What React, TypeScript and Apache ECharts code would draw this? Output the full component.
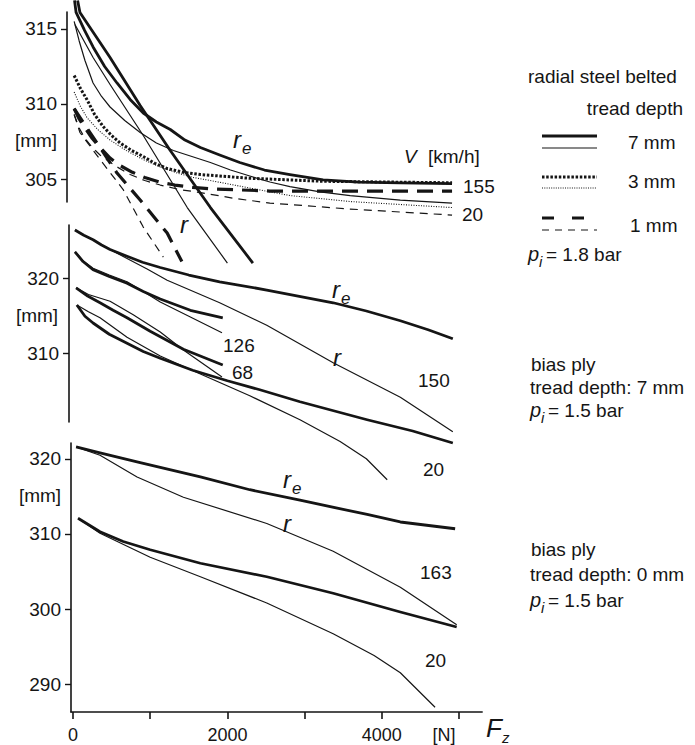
import React, { useEffect, useRef } from "react";
import * as echarts from "echarts";

const FONT = '"Liberation Sans", Arial, Helvetica, sans-serif';
const INK = "#151515";

// horizontal scale shared by all three panels: pixel of Fz = 0 and px per N
const X0 = 73;
const K = 0.0772;
const FZ_MAX = 5300;

// wheel load axis [N]
const loadTicks = [0, 1000, 2000, 3000, 4000, 5000];
const loadLabels = [0, 2000, 4000];

// radius ticks [mm]
const radialTicks = [305, 310, 315];
const biasTreadTicks = [310, 320];
const biasBaldTicks = [290, 300, 310, 320];

// radial steel belted, p_i = 1.8 bar  — [Fz N, radius mm]
const radRe7mm155: [number, number][] = [[20, 316.9], [40, 316.1], [150, 314.9], [260, 313.8], [410, 312.5], [570, 311.4], [740, 310.3], [910, 309.4], [1080, 308.8], [1260, 308.3], [1450, 307.6], [1650, 307.1], [1900, 306.6], [2160, 306.1], [2480, 305.6], [2810, 305.3], [3240, 304.95], [3700, 304.8], [4240, 304.75], [4910, 304.7]];
const radR7mm155: [number, number][] = [[60, 316.9], [90, 316.1], [480, 313.1], [870, 309.9], [1260, 306.9], [1780, 303.1], [2330, 299.4]];
const radRe7mm20: [number, number][] = [[15, 315.5], [80, 314.2], [155, 312.9], [260, 311.4], [370, 310.5], [480, 309.8], [670, 308.9], [870, 308.1], [1080, 307.4], [1300, 306.9], [1540, 306.5], [1780, 306.1], [2040, 305.6], [2290, 305.2], [2550, 304.8], [2810, 304.5], [3200, 304.15], [3590, 303.9], [4240, 303.6], [4910, 303.4]];
const radR7mm20: [number, number][] = [[25, 315.3], [260, 313.1], [480, 311.3], [910, 307.9], [1480, 303.1], [2000, 299.4]];
const radRe3mm155: [number, number][] = [[15, 311.9], [100, 311.0], [180, 310.3], [280, 309.3], [390, 308.5], [500, 307.9], [610, 307.4], [760, 306.9], [910, 306.5], [1060, 306.05], [1220, 305.7], [1430, 305.45], [1650, 305.3], [2290, 305.05], [3240, 304.85], [4910, 304.75]];
const radRe3mm20: [number, number][] = [[15, 310.8], [90, 309.9], [180, 309.1], [320, 308.3], [480, 307.6], [690, 306.9], [910, 306.3], [1130, 305.8], [1350, 305.4], [1560, 305.1], [1780, 304.9], [2290, 304.4], [2810, 303.9], [3590, 303.5], [4910, 303.1]];
const radRe1mm155: [number, number][] = [[15, 309.7], [80, 309.0], [155, 308.4], [250, 307.7], [350, 307.1], [480, 306.4], [610, 305.9], [770, 305.45], [930, 305.1], [1120, 304.8], [1320, 304.6], [1550, 304.45], [1780, 304.35], [2550, 304.2], [3590, 304.2], [4910, 304.2]];
const radRe1mm20: [number, number][] = [[15, 309.3], [80, 308.4], [155, 307.7], [250, 307.1], [350, 306.6], [540, 305.9], [740, 305.3], [930, 304.9], [1130, 304.6], [1380, 304.3], [1650, 304.1], [2100, 303.7], [2550, 303.4], [3590, 303.0], [4910, 302.6]];
const radR1mm155: [number, number][] = [[15, 309.7], [180, 308.4], [350, 307.1], [570, 305.4], [870, 303.6], [1220, 301.4], [1410, 299.5]];
const radR1mm20: [number, number][] = [[15, 309.3], [90, 308.1], [350, 306.3], [650, 304.3], [910, 301.8], [1170, 299.8]];

// bias ply, tread depth 7 mm, p_i = 1.5 bar
const biasRe150: [number, number][] = [[25, 326.4], [140, 325.7], [260, 325.1], [370, 324.4], [480, 323.8], [700, 322.9], [900, 322.1], [1130, 321.4], [1500, 320.4], [1900, 319.5], [2510, 318.4], [3370, 316.7], [3800, 315.6], [4240, 314.3], [4600, 313.1], [4920, 311.9]];
const biasR150: [number, number][] = [[25, 326.4], [140, 325.7], [260, 325.1], [370, 324.4], [480, 323.8], [700, 322.6], [960, 321.2], [1220, 319.7], [1900, 316.7], [2510, 313.7], [3370, 308.7], [4240, 304.1], [4920, 299.5]];
const biasRe126: [number, number][] = [[25, 323.5], [130, 322.2], [260, 321.1], [470, 320.2], [700, 319.3], [910, 318.2], [1130, 317.2], [1520, 315.7], [1940, 314.7]];
const biasR126: [number, number][] = [[25, 323.5], [130, 322.3], [260, 321.3], [470, 320.4], [700, 319.5], [910, 318.2], [1130, 316.8], [1520, 314.8], [1930, 312.7]];
const biasRe68: [number, number][] = [[40, 318.7], [190, 317.6], [350, 316.7], [520, 315.7], [700, 314.7], [1000, 312.9], [1430, 310.5], [1940, 308.4]];
const biasR68: [number, number][] = [[40, 318.7], [200, 317.8], [480, 316.9], [780, 315.1], [1130, 312.8], [1430, 310.4], [1930, 306.8]];
const biasRe20: [number, number][] = [[50, 316.4], [155, 314.9], [260, 314.0], [470, 312.5], [700, 311.3], [910, 310.2], [1130, 309.3], [1550, 307.7], [2000, 306.3], [2420, 305.1], [2940, 303.5], [3810, 301.1], [4400, 299.6], [4920, 298.0]];
const biasR20: [number, number][] = [[50, 316.4], [200, 315.5], [350, 314.7], [700, 312.1], [1130, 309.6], [1650, 307.2], [2290, 304.3], [2940, 301.1], [3460, 298.2], [3800, 295.9], [4070, 293.1]];

// bias ply, tread depth 0 mm, p_i = 1.5 bar
const baldRe163: [number, number][] = [[40, 321.6], [350, 320.8], [870, 319.5], [1650, 317.6], [2290, 315.9], [2940, 314.5], [3810, 312.6], [4240, 311.6], [4950, 310.7]];
const baldR163: [number, number][] = [[40, 321.6], [350, 320.5], [830, 317.6], [1430, 314.9], [2510, 311.4], [3370, 307.7], [4240, 302.9], [4970, 297.9]];
const baldRe20: [number, number][] = [[65, 312.1], [350, 310.3], [650, 309.0], [1000, 307.9], [1650, 306.1], [2510, 304.3], [3370, 302.1], [4240, 299.6], [4970, 297.6]];
const baldR20: [number, number][] = [[65, 312.1], [350, 310.1], [1000, 306.9], [1650, 304.3], [2510, 300.8], [3370, 296.7], [3900, 293.8], [4240, 291.5], [4690, 286.9]];

const THICK = 2.8;
const THIN = 1.2;
const DOT_THICK = [2.5, 1.7];
const DOT_THIN = [1, 1.5];
const DASH_THICK = [16, 9];
const DASH_THIN = [8, 6];

type Dash = number[] | "solid";

function curve(data: [number, number][], panel: number, width: number, dash: Dash = "solid") {
  return {
    type: "line",
    xAxisIndex: panel,
    yAxisIndex: panel,
    data,
    symbol: "none",
    showSymbol: false,
    smooth: false,
    clip: false,
    silent: true,
    lineStyle: { color: INK, width, type: dash, cap: "butt", join: "round" },
  };
}

function gridAt(minF: number, top: number, height: number) {
  return { left: X0 + minF * K, top, width: (FZ_MAX - minF) * K, height, outerBoundsMode: "none" };
}

function xAxisFor(panel: number, minF: number, visible: boolean) {
  return {
    type: "value",
    gridIndex: panel,
    min: minF,
    max: FZ_MAX,
    show: visible,
    axisLine: { show: visible, onZero: false, lineStyle: { color: INK, width: 1.6 } },
    axisTick: { show: visible, length: 7, customValues: loadTicks, lineStyle: { color: INK, width: 1.6 } },
    axisLabel: {
      show: visible,
      customValues: loadLabels,
      formatter: (v: number) => String(v),
      margin: 14,
      color: INK,
      fontFamily: FONT,
      fontSize: 18,
    },
    splitLine: { show: false },
  };
}

function yAxisFor(panel: number, min: number, max: number, ticks: number[]) {
  return {
    type: "value",
    gridIndex: panel,
    min,
    max,
    axisLine: { show: true, onZero: false, lineStyle: { color: INK, width: 1.6 } },
    axisTick: { show: true, length: 6, customValues: ticks, lineStyle: { color: INK, width: 1.4 } },
    axisLabel: {
      customValues: ticks,
      formatter: (v: number) => String(v),
      margin: 10,
      color: INK,
      fontFamily: FONT,
      fontSize: 19,
    },
    splitLine: { show: false },
  };
}

function txt(text: string, x: number, y: number, size = 19, align = "left", italic = false) {
  return {
    type: "text",
    x,
    y,
    silent: true,
    style: {
      text,
      fill: INK,
      fontFamily: FONT,
      fontSize: size,
      fontStyle: italic ? "italic" : "normal",
      textAlign: align,
      textVerticalAlign: "middle",
    },
  };
}

// italic symbol with a subscript, e.g. r_e, p_i, F_z
function sym(main: string, sub: string, x: number, y: number, size: number, subSize: number, dx: number, dy: number) {
  return [txt(main, x, y, size, "left", true), txt(sub, x + dx, y + dy, subSize, "left", true)];
}

function legendLine(y: number, width: number, dash?: number[]) {
  return {
    type: "line",
    silent: true,
    shape: { x1: 542, y1: y, x2: 597, y2: y },
    style: { stroke: INK, lineWidth: width, lineDash: dash || null, lineCap: "butt" },
  };
}

export default function App() {
  const ref = useRef<HTMLDivElement>(null);

  useEffect(() => {
    if (!ref.current) return;
    const chart = echarts.init(ref.current, undefined, { renderer: "svg" });

    const option = {
      animation: false,
      backgroundColor: "#ffffff",
      grid: [gridAt(-78, 12, 190), gridAt(-52, 225, 197), gridAt(-26, 443, 269)],
      xAxis: [xAxisFor(0, -78, false), xAxisFor(1, -52, false), xAxisFor(2, -26, true)],
      yAxis: [
        yAxisFor(0, 303.47, 316.13, radialTicks),
        yAxisFor(1, 300.8, 327.07, biasTreadTicks),
        yAxisFor(2, 286.27, 322.13, biasBaldTicks),
      ],
      series: [
        curve(radRe7mm155, 0, THICK),
        curve(radR7mm155, 0, THICK),
        curve(radRe7mm20, 0, THIN),
        curve(radR7mm20, 0, THIN),
        curve(radRe3mm155, 0, 3, DOT_THICK),
        curve(radRe3mm20, 0, 1.1, DOT_THIN),
        curve(radRe1mm155, 0, 3.2, DASH_THICK),
        curve(radRe1mm20, 0, THIN, DASH_THIN),
        curve(radR1mm155, 0, 3.2, DASH_THICK),
        curve(radR1mm20, 0, THIN, DASH_THIN),

        curve(biasRe150, 1, THICK),
        curve(biasR150, 1, THIN),
        curve(biasRe126, 1, THICK),
        curve(biasR126, 1, THIN),
        curve(biasRe68, 1, THICK),
        curve(biasR68, 1, THIN),
        curve(biasRe20, 1, THICK),
        curve(biasR20, 1, THIN),

        curve(baldRe163, 2, THICK),
        curve(baldR163, 2, THIN),
        curve(baldRe20, 2, THICK),
        curve(baldR20, 2, THIN),
      ],
      graphic: [
        // unit labels on the radius axes
        txt("[mm]", 36, 140, 19, "center"),
        txt("[mm]", 37, 315, 19, "center"),
        txt("[mm]", 40, 495, 19, "center"),

        // radial panel annotations
        ...sym("r", "e", 233, 139, 24, 17, 9, 9),
        txt("r", 180, 224, 24, "left", true),
        txt("V", 404, 156, 19, "left", true),
        txt("[km/h]", 428, 156, 19),
        txt("155", 463, 186, 19),
        txt("20", 462, 214, 19),

        // bias ply, 7 mm
        ...sym("r", "e", 332, 289, 24, 17, 9, 9),
        txt("r", 333, 357, 24, "left", true),
        txt("126", 223, 345, 19),
        txt("68", 232, 372, 19),
        txt("150", 418, 380, 19),
        txt("20", 423, 469, 19),

        // bias ply, 0 mm
        ...sym("r", "e", 283, 479, 24, 17, 9, 9),
        txt("r", 283, 523, 24, "left", true),
        txt("163", 420, 572, 19),
        txt("20", 425, 660, 19),

        // load axis title
        txt("[N]", 444, 735, 18, "center"),
        ...sym("F", "z", 486, 728, 26, 15, 16, 9),

        // legend of the radial panel
        txt("radial steel belted", 528, 76, 19),
        txt("tread depth", 683, 108, 19, "right"),
        legendLine(136, 3),
        legendLine(148, 1.2),
        txt("7 mm", 628, 142, 19),
        legendLine(177, 3, [2.5, 1.7]),
        legendLine(188, 1.1, [1, 1.3]),
        txt("3 mm", 628, 181, 19),
        legendLine(218, 3.2, [12, 18]),
        legendLine(230, 1.2, [7, 6]),
        txt("1 mm", 630, 225, 19),
        ...sym("p", "i", 528, 254, 20, 15, 11, 7),
        txt("= 1.8 bar", 546, 254, 19),

        // bias ply, tread 7 mm
        txt("bias ply", 531, 364, 19),
        txt("tread depth: 7 mm", 530, 387, 19),
        ...sym("p", "i", 530, 410, 20, 15, 11, 7),
        txt("= 1.5 bar", 548, 410, 19),

        // bias ply, tread 0 mm
        txt("bias ply", 531, 549, 19),
        txt("tread depth: 0 mm", 530, 574, 19),
        ...sym("p", "i", 530, 600, 20, 15, 11, 7),
        txt("= 1.5 bar", 548, 600, 19),
      ],
    };

    chart.setOption(option as any);
    return () => chart.dispose();
  }, []);

  return (
    <div
      ref={ref}
      style={{ position: "absolute", left: 0, top: 0, width: 695, height: 745, background: "#fff" }}
    />
  );
}
